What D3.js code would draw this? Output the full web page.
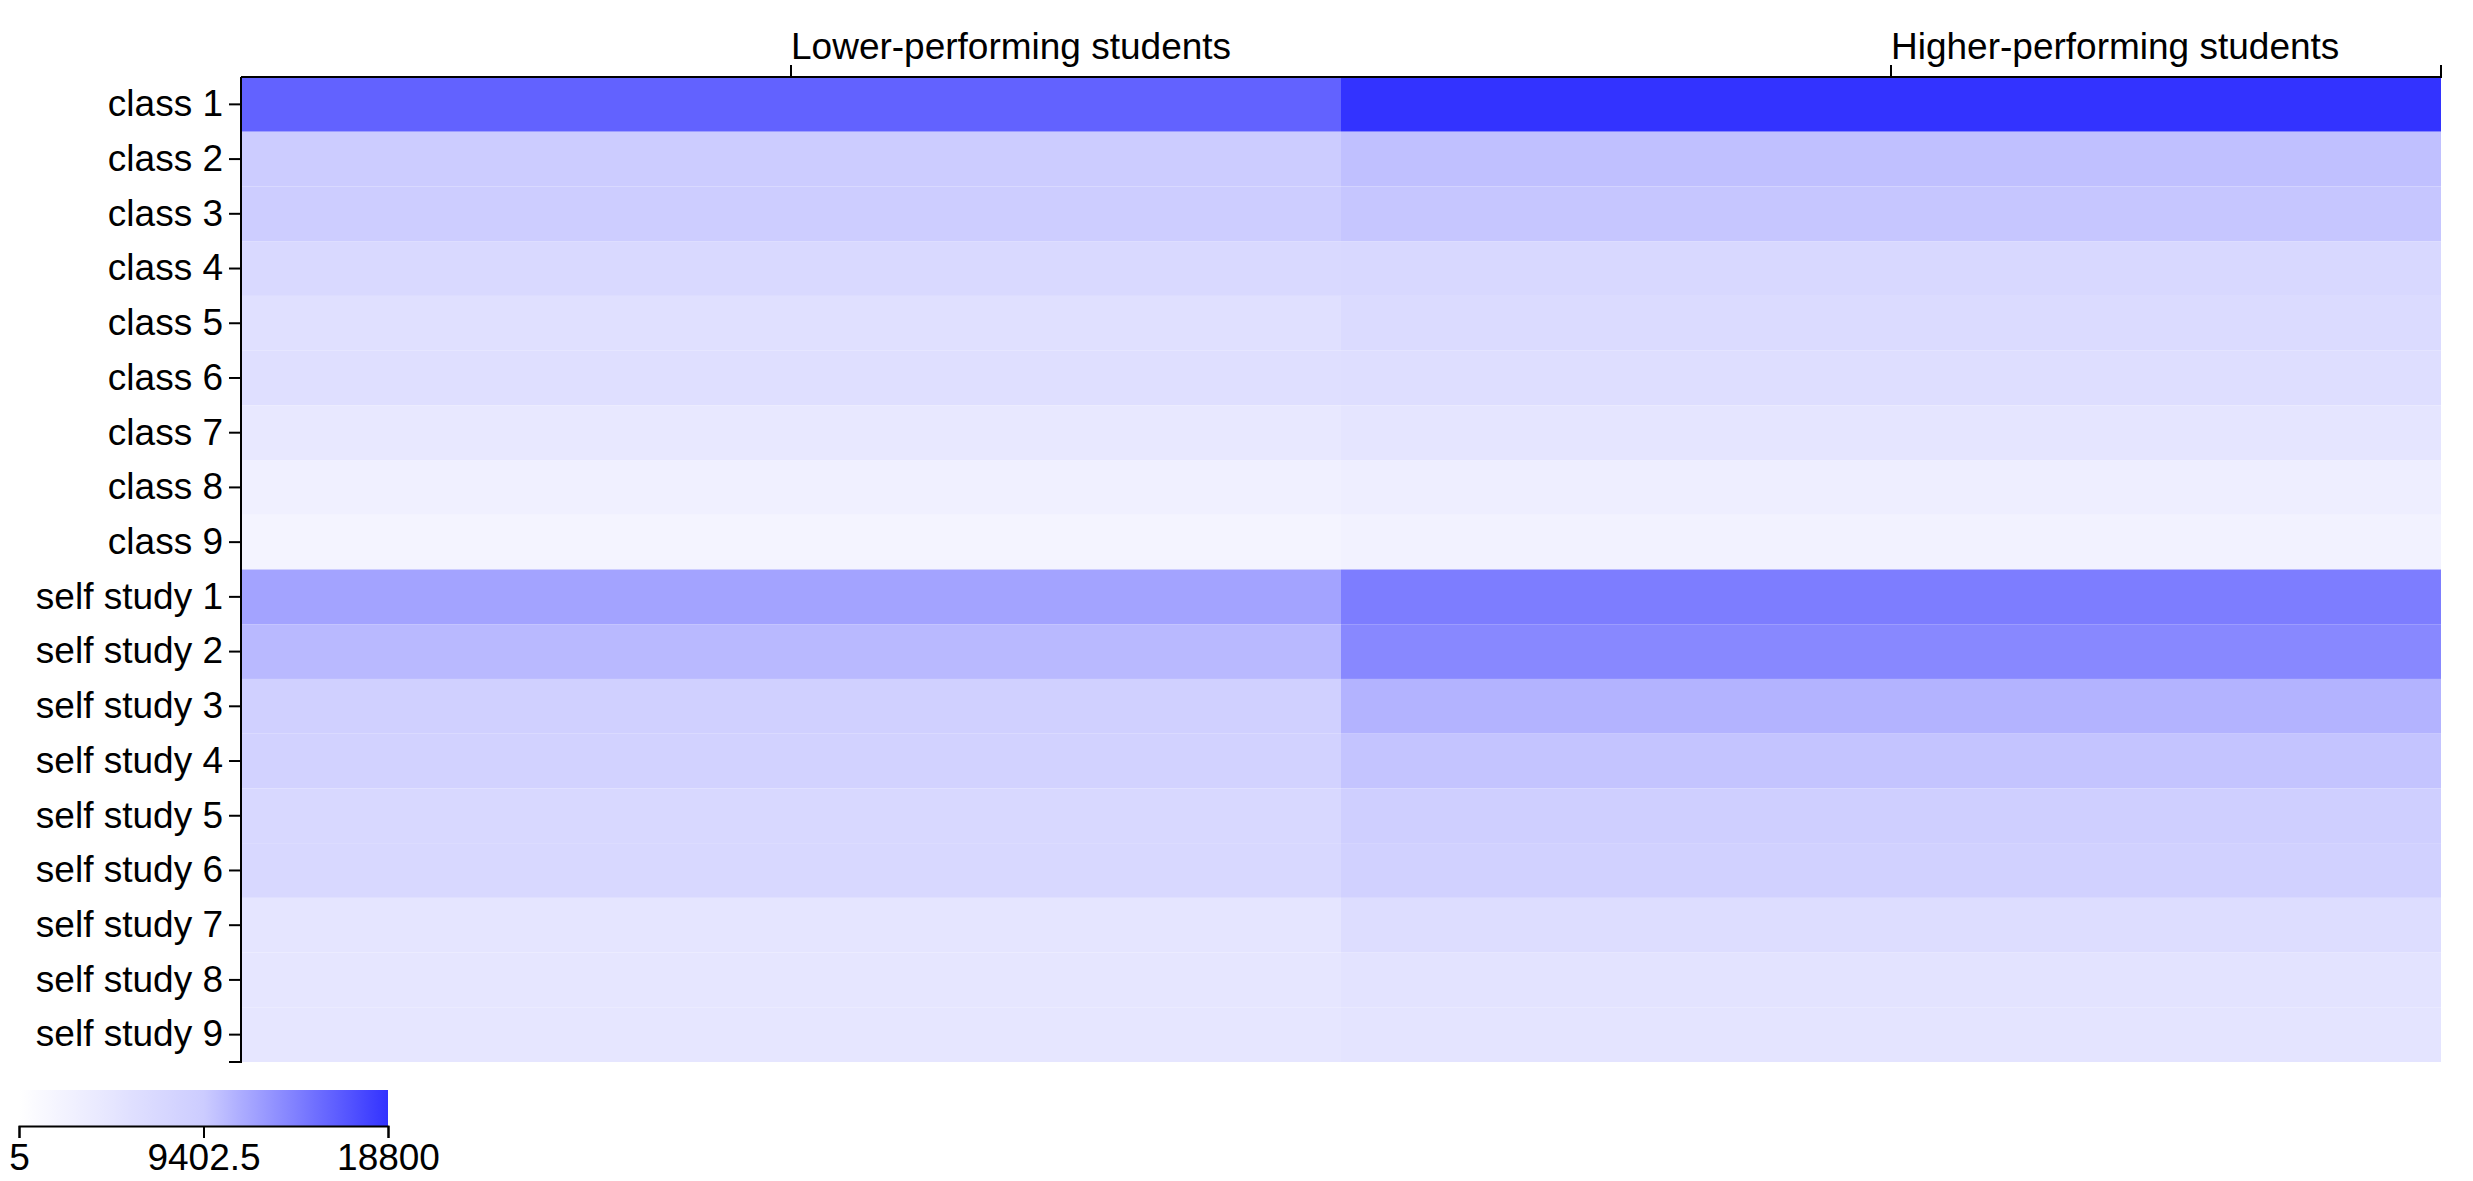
<!DOCTYPE html>
<html>
<head>
<meta charset="utf-8">
<script src="https://cdn.jsdelivr.net/npm/d3@7"></script>
<style>
body { margin: 0; background: #fff; }
</style>
</head>
<body>
<svg width="2473" height="1181"></svg>
<script>
var groups = ["Lower-performing students", "Higher-performing students"];
var rows = ["class 1", "class 2", "class 3", "class 4", "class 5", "class 6", "class 7", "class 8", "class 9",
  "self study 1", "self study 2", "self study 3", "self study 4", "self study 5", "self study 6",
  "self study 7", "self study 8", "self study 9"];
var lower = [15900, 9350, 9200, 7000, 5700, 5900, 4250, 2770, 2030,
  11900, 10600, 8650, 8300, 7200, 7150, 4800, 4600, 4600];
var higher = [18800, 10150, 9750, 7200, 6650, 6100, 4800, 3150, 2400,
  14250, 13600, 10950, 9900, 8850, 8500, 6300, 5150, 5000];
var colorTicks = [5, 9402.5, 18800];

var font = "'Liberation Sans', Arial, Helvetica, sans-serif";

var svg = d3.select("svg"),
  margin = {top: 77, right: 32, bottom: 119, left: 241},
  width = +svg.attr("width") - margin.left - margin.right,
  height = +svg.attr("height") - margin.top - margin.bottom,
  g = svg.append("g").attr("transform", "translate(" + margin.left + "," + margin.top + ")");

var x = d3.scaleBand().domain(groups).range([0, width]),
  y = d3.scaleBand().domain(rows).range([0, height]),
  color = d3.scaleLinear().domain(colorTicks).range(["#ffffff", "#ccccff", "#3333ff"]);

var cells = [];
rows.forEach(function(r, i) {
  cells.push({row: r, group: groups[0], value: lower[i]});
  cells.push({row: r, group: groups[1], value: higher[i]});
});

g.selectAll(".cell")
  .data(cells)
  .enter().append("rect")
  .attr("class", "cell")
  .attr("x", function(d) { return x(d.group); })
  .attr("y", function(d) { return y(d.row); })
  .attr("width", x.bandwidth())
  .attr("height", y.bandwidth())
  .style("fill", function(d) { return color(d.value); });

function styleAxis(sel) {
  sel.attr("font-size", 37).attr("font-family", font);
  sel.selectAll("path, line").attr("stroke-width", 2);
}

var xAxis = g.append("g")
  .attr("class", "axis axis--x")
  .call(d3.axisTop(x).tickSize(12).tickPadding(6))
  .call(styleAxis);
xAxis.selectAll(".tick text").attr("text-anchor", "start");
// only the right-hand outer tick is drawn
xAxis.select(".domain").attr("d", "M" + x.range()[0] + ",0H" + x.range()[1] + "V-12");

var yAxis = g.append("g")
  .attr("class", "axis axis--y")
  .call(d3.axisLeft(y).tickSize(12).tickPadding(6))
  .call(styleAxis);
// only the bottom outer tick is drawn
yAxis.select(".domain").attr("d", "M0," + y.range()[0] + "V" + y.range()[1] + "H-12");

// colour legend
var legendWidth = 369, legendHeight = 36;
var legend = svg.append("g").attr("transform", "translate(19,1090)");
var lx = d3.scaleLinear().domain(d3.extent(colorTicks)).range([0, legendWidth]);

var grad = svg.append("defs").append("linearGradient").attr("id", "legend-grad");
d3.range(0, 1.0001, 0.05).forEach(function(t) {
  grad.append("stop")
    .attr("offset", (t * 100) + "%")
    .attr("stop-color", color(lx.invert(t * legendWidth)));
});

legend.append("rect")
  .attr("width", legendWidth)
  .attr("height", legendHeight)
  .style("fill", "url(#legend-grad)");

legend.append("g")
  .attr("transform", "translate(0," + legendHeight + ")")
  .call(d3.axisBottom(lx).tickValues(colorTicks).tickFormat(d3.format("")).tickSize(12).tickPadding(6))
  .call(styleAxis);
</script>
</body>
</html>
